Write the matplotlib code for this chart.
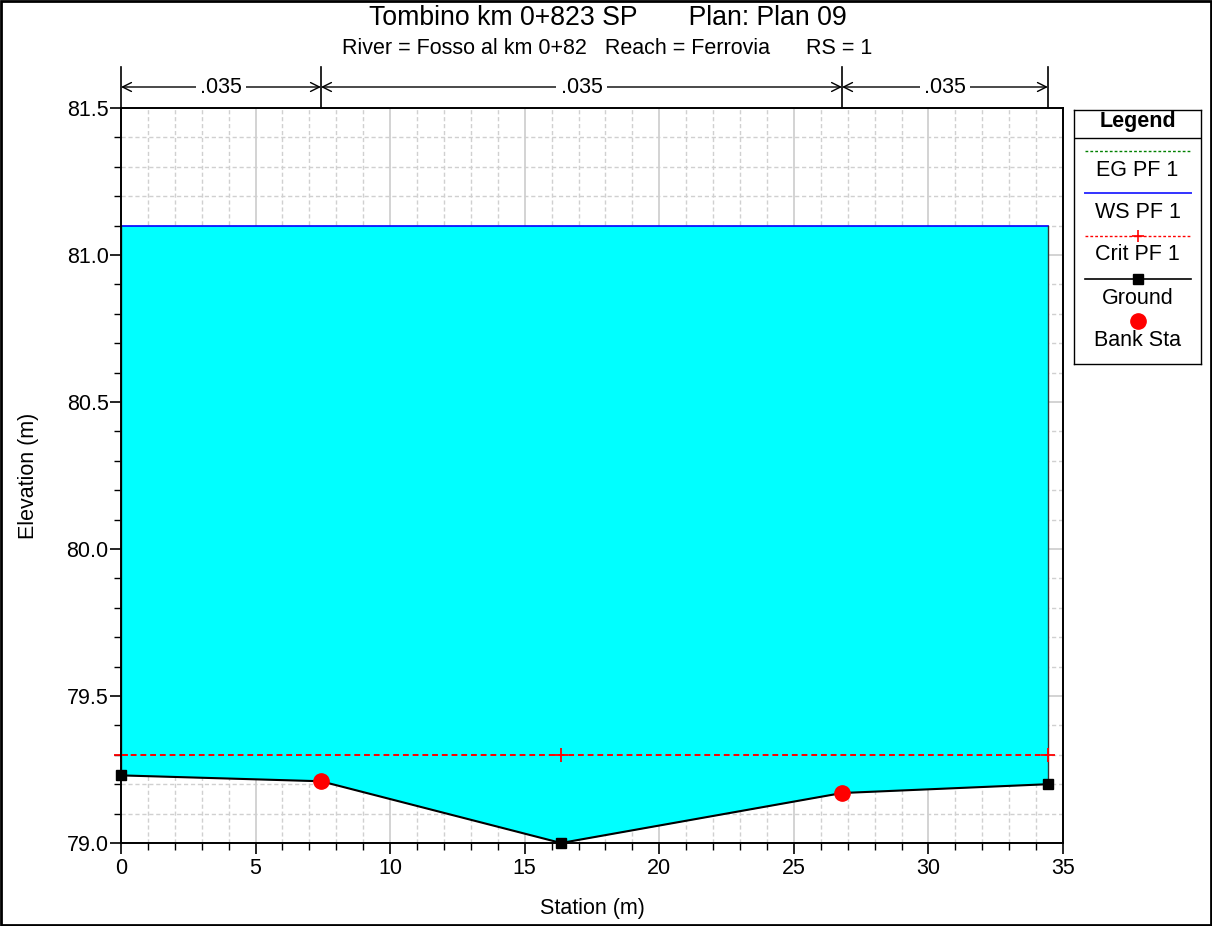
import matplotlib
matplotlib.use("Agg")
import matplotlib.pyplot as plt
from matplotlib.patches import Rectangle
from matplotlib.ticker import MultipleLocator, FormatStrFormatter
import numpy as np

plt.rcParams['font.family'] = ['Liberation Sans', 'DejaVu Sans']

# ---- data ----
ground_sta = [0.0, 7.43, 16.35, 26.79, 34.44]
ground_elev = [79.23, 79.21, 79.00, 79.17, 79.20]
bank_sta = [7.43, 26.79]
bank_elev = [79.21, 79.17]
ws_elev = 81.10
crit_elev = 79.30
crit_marker_sta = [0.0, 16.35, 34.44]
n_breaks = [0.0, 7.43, 26.79, 34.44]
n_values = [".035", ".035", ".035"]
title = "Tombino km 0+823 SP       Plan: Plan 09"
subtitle = "River = Fosso al km 0+82   Reach = Ferrovia      RS = 1"

FS = 15.5
W, H = 1212, 926
fig = plt.figure(figsize=(W / 100, H / 100), dpi=100)
ax = fig.add_axes([121 / W, 1 - 843 / H, (1063 - 121) / W, (843 - 108) / H])

# water fill
gs = np.array(ground_sta)
ge = np.array(ground_elev)
ax.fill_between(gs, ge, ws_elev, color='#00FFFF', zorder=2, linewidth=0)
ax.plot([gs[0], gs[-1]], [ws_elev, ws_elev], color='#0000FF', lw=1.2, zorder=4)
ax.plot([gs[-1], gs[-1]], [ge[-1], ws_elev], color='#333333', lw=1.0, zorder=4)
ax.plot([gs[0], gs[0]], [ge[0], ws_elev], color='#333333', lw=1.0, zorder=4)

# crit line
ax.plot([crit_marker_sta[0], crit_marker_sta[-1]], [crit_elev, crit_elev], color='#FF0000',
        lw=1.4, ls=(0, (3, 2)), zorder=5)
ax.plot(crit_marker_sta, [crit_elev] * len(crit_marker_sta), ls='none', marker='+',
        color='#FF0000', ms=10, mew=1.3, zorder=5, clip_on=False)

# ground
ax.plot(gs, ge, color='black', lw=1.5, marker='s', ms=7, zorder=6, clip_on=False)
ax.plot(bank_sta, bank_elev, ls='none', marker='o', color='#FF0000', ms=11, zorder=7)

ax.set_xlim(0, 35)
ax.set_ylim(79.0, 81.5)
ax.xaxis.set_major_locator(MultipleLocator(5))
ax.xaxis.set_minor_locator(MultipleLocator(1))
ax.yaxis.set_major_locator(MultipleLocator(0.5))
ax.yaxis.set_minor_locator(MultipleLocator(0.1))
ax.yaxis.set_major_formatter(FormatStrFormatter('%.1f'))
ax.grid(which='major', color='#cccccc', lw=1.2, ls='-', zorder=0)
ax.grid(which='minor', color='#d0d0d0', lw=1.0, ls=(0, (3, 2)), zorder=0)
ax.set_axisbelow(True)
ax.tick_params(which='major', direction='out', length=8, width=1.2, labelsize=FS, colors='black')
ax.tick_params(axis='y', which='major', pad=1)
ax.tick_params(axis='x', which='major', pad=3)
ax.tick_params(which='minor', direction='out', length=5, width=1)
for s in ax.spines.values():
    s.set_linewidth(1.4)
    s.set_zorder(8)

ax.set_xlabel("Station (m)", fontsize=FS)
ax.set_ylabel("Elevation (m)", fontsize=FS)
ax.xaxis.set_label_coords(0.5, -0.0755)
ax.yaxis.set_label_coords(-0.087, 0.5)

# n-value annotations
trans = ax.get_xaxis_transform()
y_arrow = (843 - 87) / 735
y_top = (843 - 67) / 735
for b in n_breaks:
    ax.plot([b, b], [1.0, y_top], transform=trans, color='black', lw=1.2, clip_on=False)
for i, val in enumerate(n_values):
    a, b = n_breaks[i], n_breaks[i + 1]
    ax.annotate("", xy=(a, y_arrow), xytext=(b, y_arrow), xycoords=trans, textcoords=trans,
                arrowprops=dict(arrowstyle='<->', color='black', lw=1.0,
                                shrinkA=0, shrinkB=0, mutation_scale=16))
    ax.text((a + b) / 2, y_arrow, val, transform=trans, ha='center', va='center', fontsize=FS,
            bbox=dict(facecolor='white', edgecolor='none', pad=3), zorder=10)

# titles
fig.text(608 / W, 1 - 18 / H, title, ha='center', va='center', fontsize=19.2)
fig.text(607 / W, 1 - 49 / H, subtitle, ha='center', va='center', fontsize=15.5)

# legend box
lx0, lx1, ly0, ly1 = 1074, 1201, 110, 364
lax = fig.add_axes([lx0 / W, 1 - ly1 / H, (lx1 - lx0) / W, (ly1 - ly0) / H])
lax.set_xlim(lx0, lx1)
lax.set_ylim(ly1, ly0)
lax.set_xticks([])
lax.set_yticks([])
for s in lax.spines.values():
    s.set_linewidth(1.0)
cx = (lx0 + lx1) / 2
lax.text(cx, 122, "Legend", ha='center', va='center', fontsize=FS, fontweight='bold')
lax.plot([lx0, lx1], [138, 138], color='black', lw=1.0)
x_a, x_b = 1085, 1191
lax.plot([x_a, x_b], [151, 151], color='#008000', lw=1.0, ls=(0, (2, 1.5)))
lax.text(cx, 170, "EG PF 1", ha='center', va='center', fontsize=FS)
lax.plot([x_a, x_b], [193, 193], color='#3333FF', lw=1.4)
lax.text(cx, 212, "WS PF 1", ha='center', va='center', fontsize=FS)
lax.plot([x_a, x_b], [236, 236], color='#FF0000', lw=1.0, ls=(0, (2, 1.5)))
lax.plot([cx], [236], marker='+', color='#FF0000', ms=9, mew=1.2, ls='none')
lax.text(cx, 255, "Crit PF 1", ha='center', va='center', fontsize=FS)
lax.plot([x_a, x_b], [279, 279], color='black', lw=1.2)
lax.plot([cx], [279], marker='s', color='black', ms=7, ls='none')
lax.text(cx, 298, "Ground", ha='center', va='center', fontsize=FS)
lax.plot([cx], [321], marker='o', color='#FF0000', ms=11, ls='none')
lax.text(cx, 341, "Bank Sta", ha='center', va='center', fontsize=FS)

# figure frame
fig.patches.append(Rectangle((0.001, 0.001), 0.998, 0.998, transform=fig.transFigure,
                             fill=False, edgecolor='black', lw=2))

fig.savefig("out.png", dpi=100)
